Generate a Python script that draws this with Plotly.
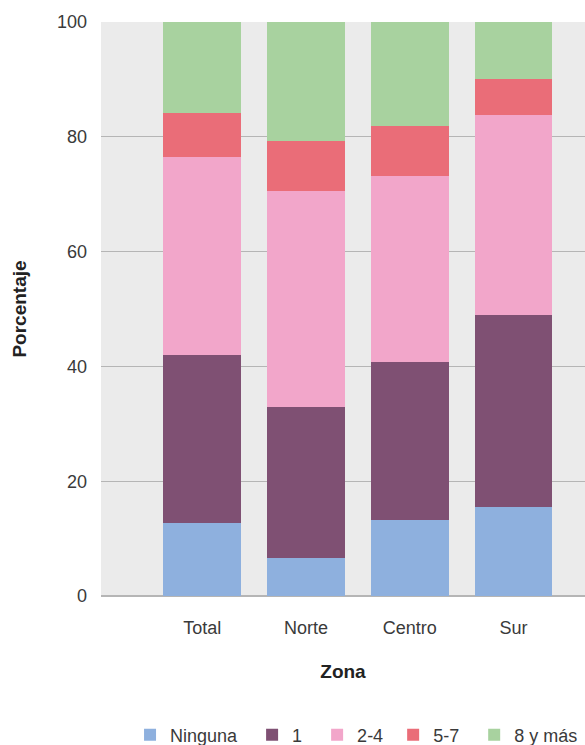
import plotly.graph_objects as go

zonas = ["Total", "Norte", "Centro", "Sur"]
series_names = ["Ninguna", "1", "2-4", "5-7", "8 y más"]
ninguna = [12.7, 6.7, 13.2, 15.5]
uno = [29.3, 26.2, 27.6, 33.5]
dos_cuatro = [34.5, 37.7, 32.4, 34.8]
cinco_siete = [7.7, 8.6, 8.7, 6.3]
ocho_mas = [15.8, 20.8, 18.1, 9.9]
yticks = [0, 20, 40, 60, 80, 100]

values = [ninguna, uno, dos_cuatro, cinco_siete, ocho_mas]
colors = ["#8EB0DE", "#7F5073", "#F2A6CA", "#EA6D78", "#A8D29F"]
legend_pad = [2, 2, 1, 2, 0]

fig = go.Figure()
for name, vals, c, p in zip(series_names, values, colors, legend_pad):
    fig.add_trace(go.Bar(x=zonas, y=vals, name=name + "\u00a0" * p,
                         marker=dict(color=c, line=dict(width=0)), width=0.75))

font_family = "Liberation Sans, Arial, sans-serif"
fig.update_layout(
    barmode="stack",
    width=585, height=745,
    margin=dict(l=101, r=0, t=22, b=149, autoexpand=False),
    paper_bgcolor="white",
    plot_bgcolor="#EBEBEB",
    font=dict(family=font_family, size=18, color="#3A3A3A"),
    xaxis=dict(
        range=[-0.975, 3.69],
        showgrid=False,
        ticks="",
        ticklabelstandoff=19,
        tickfont=dict(size=18, color="#3A3A3A"),
        title=dict(text="<b>Zona</b>", font=dict(size=19, color="#222222"), standoff=27),
    ),
    yaxis=dict(
        range=[0, 100],
        tickvals=yticks,
        gridcolor="#B5B5B5",
        gridwidth=1,
        zeroline=True, zerolinecolor="#B5B5B5", zerolinewidth=2,
        ticks="",
        ticklabelstandoff=13,
        tickfont=dict(size=18, color="#3A3A3A"),
        title=dict(text="<b>Porcentaje</b>", font=dict(size=19, color="#222222"), standoff=25),
    ),
    legend=dict(
        orientation="h",
        x=0.06, xanchor="left",
        y=-0.21, yanchor="top",
        font=dict(size=18, color="#3A3A3A"),
        traceorder="normal",
        itemwidth=30,
    ),
    bargap=0.25,
)

fig.write_html(
    "out.html",
    config={"displayModeBar": False},
    post_script="document.body.style.margin='0';document.body.style.overflow='hidden';",
)
